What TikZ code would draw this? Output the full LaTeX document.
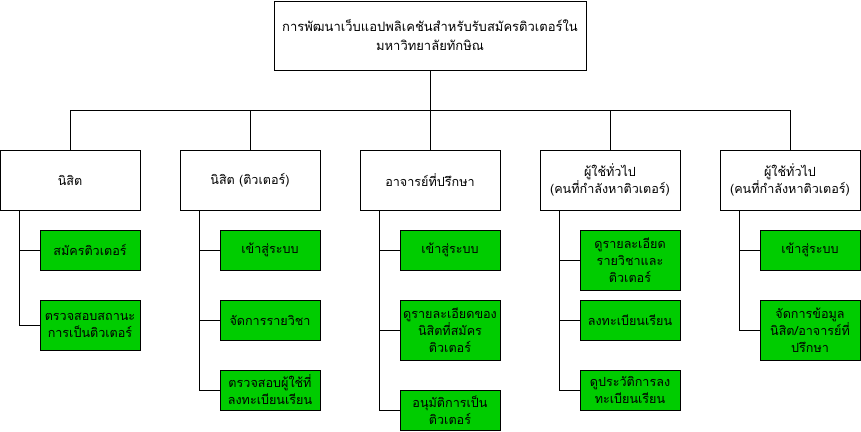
\documentclass[tikz,border=0pt]{standalone}
\usepackage{fontspec}
\newfontfamily\thaifont[Script=Thai]{Loma}
\usetikzlibrary{positioning}
\definecolor{taskgreen}{RGB}{0,204,0}

\begin{document}
\begin{tikzpicture}[
      x = 1pt, y = -1pt,
      line width = 1pt,
      every node/.style = { font = {\thaifont\fontsize{12.6}{17}\selectfont}, align = center },
      actor/.style = {
        draw = black, fill = white,
        minimum width = 140pt, minimum height = 60pt
      },
      task/.style = {
        draw = black, fill = taskgreen,
        minimum width = 100pt, inner sep = 1pt
      },
    ]
    \useasboundingbox (0,0) rectangle (861,431);

    \node[draw = black, fill = white, minimum width = 312pt, minimum height = 69pt,
          font = {\thaifont\fontsize{13}{19}\selectfont}] (title) at (430,35.5)
      {การพัฒนาเว็บแอปพลิเคชันสำหรับรับสมัครติวเตอร์ใน\\ มหาวิทยาลัยทักษิณ};

    \coordinate (bus) at (430,110);
    \draw (title) to (bus);

	%% user groups
    \foreach \x/\t [count=\i] in {70/นิสิต, 250/นิสิต (ติวเตอร์), 430/อาจารย์ที่ปรึกษา,
        610/{ผู้ใช้ทั่วไป\\ (คนที่กำลังหาติวเตอร์)}, 790/{ผู้ใช้ทั่วไป\\ (คนที่กำลังหาติวเตอร์)}} {
      \node[actor] (G\i) at (\x,180) {\t};
      \draw (G\i) |- (bus);
    }

	%% tasks of each group
    \foreach \g/\x/\y/\h/\t [count=\k] in {
        1/90/250/40/สมัครติวเตอร์,
        1/90/325/50/{ตรวจสอบสถานะ\\ การเป็นติวเตอร์},
        2/270/250/40/เข้าสู่ระบบ,
        2/270/320/40/จัดการรายวิชา,
        2/270/390/40/{ตรวจสอบผู้ใช้ที่\\ ลงทะเบียนเรียน},
        3/450/250/40/เข้าสู่ระบบ,
        3/450/330/60/{ดูรายละเอียดของ\\ นิสิตที่สมัคร\\ ติวเตอร์},
        3/450/410/40/{อนุมัติการเป็น\\ ติวเตอร์},
        4/630/260/60/{ดูรายละเอียด\\ รายวิชาและ\\ ติวเตอร์},
        4/630/320/40/ลงทะเบียนเรียน,
        4/630/390/40/{ดูประวัติการลง\\ ทะเบียนเรียน},
        5/810/250/40/เข้าสู่ระบบ,
        5/810/330/60/{จัดการข้อมูล\\ นิสิต/อาจารย์ที่\\ ปรึกษา}} {
      \node[task, minimum height = \h pt] (T\k) at (\x,\y) {\t};
      \draw ([xshift = 20pt]G\g.south west) |- (T\k);
    }
  \end{tikzpicture}
\end{document}
